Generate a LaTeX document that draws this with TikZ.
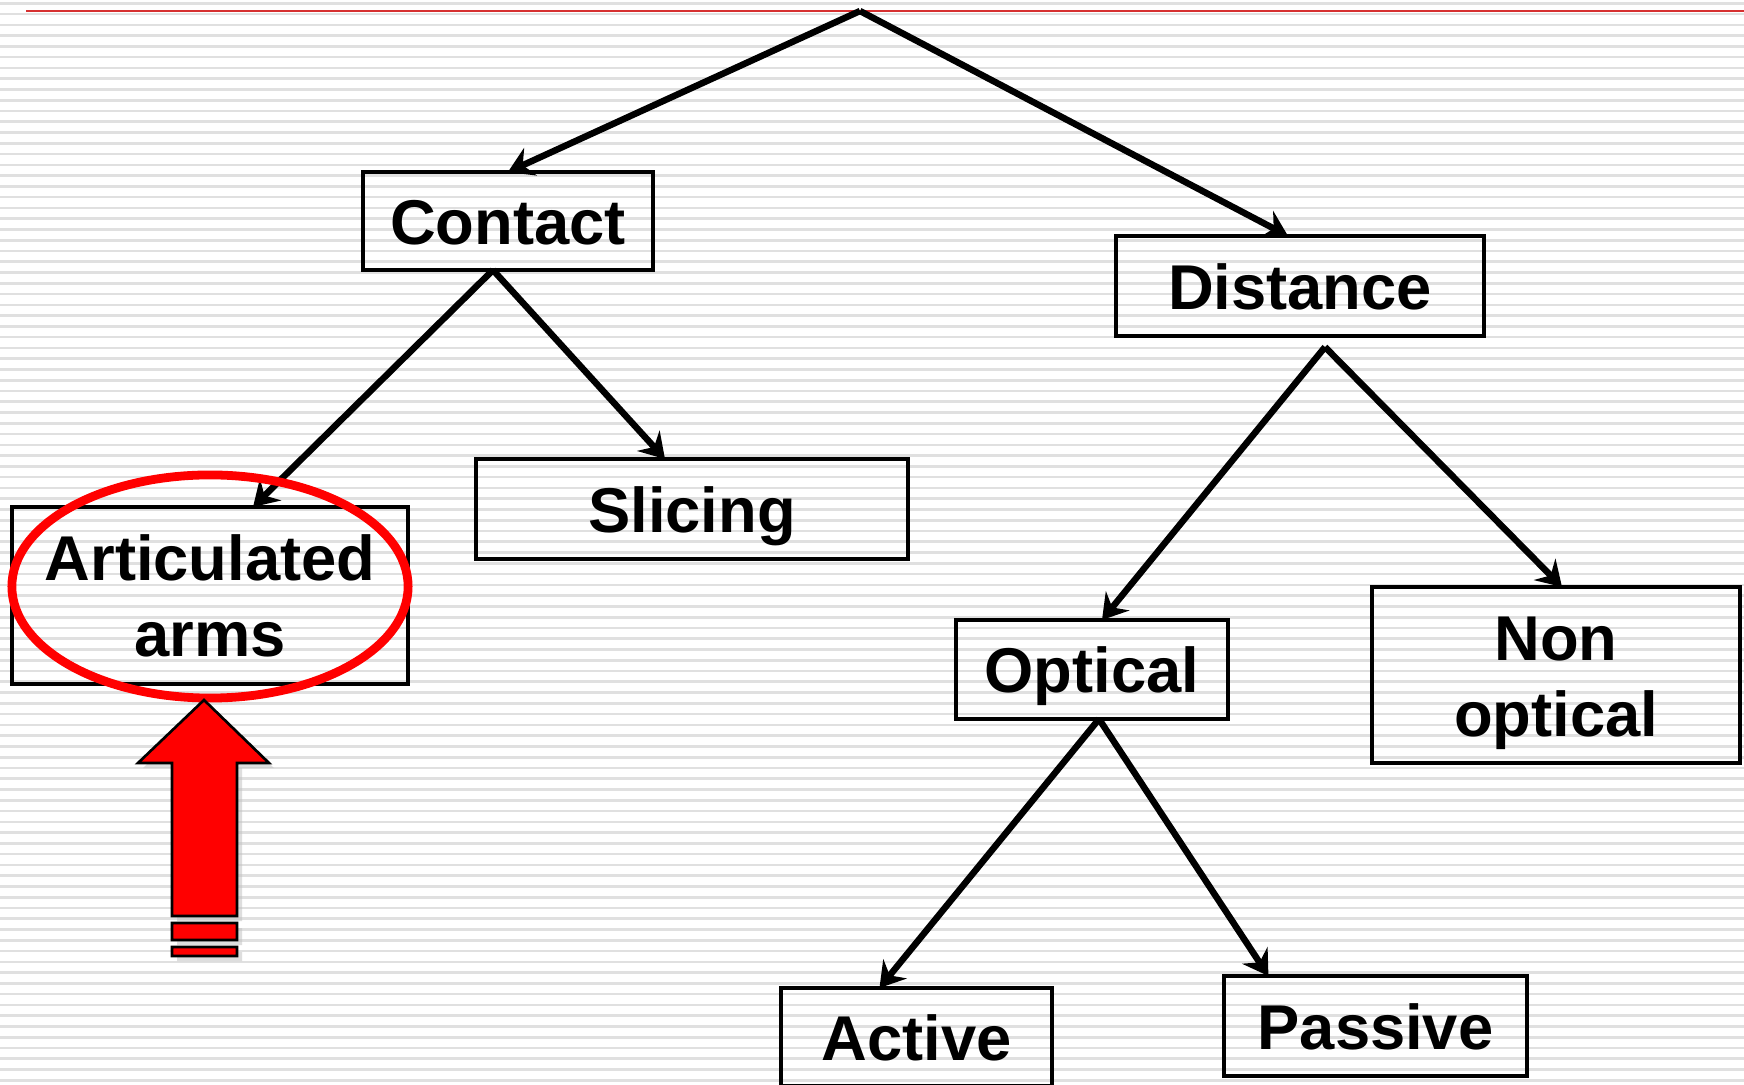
\documentclass[tikz,border=0pt]{standalone}
\usepackage{fontspec}
\setmainfont{Liberation Sans}
\usetikzlibrary{arrows.meta,shadows}
\definecolor{topline}{RGB}{214,48,48}
\newcommand\capstrut{\rule[-0.22em]{0pt}{1.18em}}
\newcommand\boxfont{\bfseries\fontsize{18}{21.6}\selectfont\setlength{\lineskiplimit}{-100pt}}

\begin{document}
\begin{tikzpicture}[x=0.01cm, y=-0.01cm,
    box/.style={draw, line width=1.15pt, inner sep=0pt, outer sep=0pt, align=center,
      font=\boxfont},
    conn/.style={line width=1.85pt, -{Stealth[length=7pt, width=8.6pt, inset=2.4pt]}},
    stripe/.style={black!12, line width=0.75pt}]

            % Background with stripes
            \fill[white] (0,0) rectangle (1744,1085);
            \useasboundingbox (0,0) rectangle (1744,1085);
            \foreach \k in {0,...,100}
              \draw[stripe] (0,{3.3+10.77*\k}) -- (1744,{3.3+10.77*\k});
            \draw[topline, line width=0.55pt] (26,11) -- (1744,11);

            % Nodes with manual coordinates
            \coordinate (apex) at (860,11);
            \node[box, minimum width=2.90cm, minimum height=0.98cm] (contact) at (508,221) {\capstrut Contact};
            \node[box, minimum width=3.68cm, minimum height=1.00cm] (distance) at (1300,286) {\capstrut Distance};
            \node[box, minimum width=4.32cm, minimum height=1.00cm] (slicing) at (692,509) {\capstrut Slicing};
            \node[box, minimum width=3.96cm, minimum height=1.77cm] (arms) at (210,595.5) {\capstrut Articulated\\\capstrut arms};
            \node[box, minimum width=2.72cm, minimum height=0.99cm] (optical) at (1092,669.5) {\capstrut Optical};
            \node[box, minimum width=3.68cm, minimum height=1.76cm] (nonoptical) at (1556,675) {\capstrut Non\\\capstrut optical};
            \node[box, minimum width=2.71cm, minimum height=0.98cm] (active) at (916.5,1037) {\capstrut Active};
            \node[box, minimum width=3.03cm, minimum height=1.00cm] (passive) at (1375.5,1026) {\capstrut Passive};

            % Edges
            \draw[conn] (apex) -- (contact.north);
            \draw[conn] (apex) -- ([xshift=-0.12cm]distance.north);
            \draw[conn] ([xshift=-0.15cm]contact.south) -- ([xshift=0.43cm]arms.north);
            \draw[conn] ([xshift=-0.15cm]contact.south) -- ([xshift=-0.27cm]slicing.north);
            \draw[conn] ([xshift=0.25cm, yshift=-0.11cm]distance.south) -- ([xshift=0.10cm]optical.north);
            \draw[conn] ([xshift=0.25cm, yshift=-0.11cm]distance.south) -- ([xshift=0.06cm]nonoptical.north);
            \draw[conn] ([xshift=0.07cm]optical.south) -- ([xshift=-0.37cm]active.north);
            \draw[conn] ([xshift=0.07cm]optical.south) -- ([xshift=-1.07cm]passive.north);

            % Highlight
            \draw[red, line width=2.5pt] ([yshift=0.09cm]arms.center) ellipse [x radius=1.98cm, y radius=1.115cm];
            \filldraw[red, draw=black, line width=0.75pt,
              drop shadow={shadow xshift=0.05cm, shadow yshift=-0.05cm, fill=black!25, opacity=0.5}]
              (204,700) -- (269,763) -- (237,763) -- (237,916) -- (172,916) -- (172,763) -- (138,763) -- cycle
              (172,923) rectangle (237,940)
              (172,947) rectangle (237,956);
        \end{tikzpicture}
\end{document}
